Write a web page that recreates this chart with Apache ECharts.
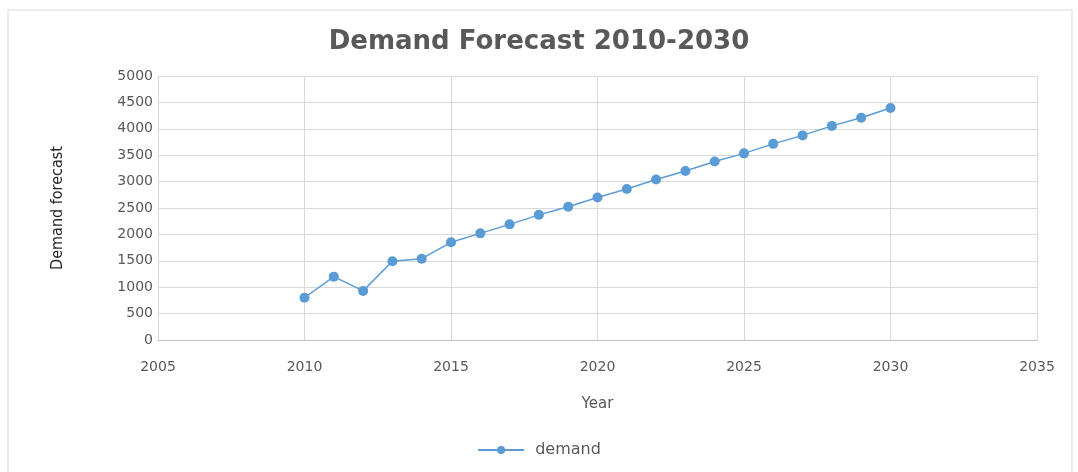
<!DOCTYPE html>
<html><head><meta charset="utf-8">
<script src="https://cdn.jsdelivr.net/npm/echarts@6/dist/echarts.min.js"></script>
<style>html,body{margin:0;padding:0;background:#fff}#c{width:1078px;height:472px}</style>
</head><body><div id="c"></div>
<script>
const titleText = "Demand Forecast 2010-2030";
const seriesName = "demand";
const years = [2010,2011,2012,2013,2014,2015,2016,2017,2018,2019,2020,2021,2022,2023,2024,2025,2026,2027,2028,2029,2030];
const demand = [800,1200,930,1490,1540,1850,2020,2190,2370,2525,2700,2860,3040,3200,3380,3535,3715,3875,4055,4210,4395];
const xName = "Year";
const yName = "Demand forecast";

const chart = echarts.init(document.getElementById('c'));
const txt = '#595959';
chart.setOption({
  animation:false,
  backgroundColor:'#fff',
  graphic:[{type:'rect',shape:{x:8,y:10,width:1064,height:470},style:{fill:'none',stroke:'#d9d9d9',lineWidth:1}}],
  title:{text:titleText,left:'center',top:24,textStyle:{fontFamily:'DejaVu Sans',fontWeight:'bold',fontSize:26,color:txt}},
  legend:{bottom:9,left:'center',itemWidth:46,itemHeight:10,itemGap:10,textStyle:{fontFamily:'DejaVu Sans',fontSize:16,color:txt,padding:[0,0,0,6]},data:[seriesName]},
  grid:{left:158,right:41,top:76,bottom:132},
  xAxis:{type:'value',min:2005,max:2035,interval:5,name:xName,nameLocation:'middle',nameGap:57,
    nameTextStyle:{fontFamily:'DejaVu Sans',fontSize:15,color:txt},
    axisLine:{show:true,lineStyle:{color:'#bfbfbf'}},axisTick:{show:false},
    axisLabel:{fontFamily:'DejaVu Sans',fontSize:14,color:txt,margin:20,formatter:v=>String(v)},
    splitLine:{show:true,lineStyle:{color:'#d9d9d9'}}},
  yAxis:{type:'value',min:0,max:5000,interval:500,name:yName,nameLocation:'middle',nameGap:92,
    nameTextStyle:{fontFamily:'DejaVu Sans Condensed',fontSize:16,color:'#262626'},
    axisLine:{show:false},axisTick:{show:false},
    axisLabel:{fontFamily:'DejaVu Sans',fontSize:14,color:txt,margin:5,formatter:v=>String(v)},
    splitLine:{show:true,lineStyle:{color:'#d9d9d9'}}},
  series:[{name:seriesName,type:'line',data:years.map((y,i)=>[y,demand[i]]),
    symbol:'circle',symbolSize:10,itemStyle:{color:'#5b9bd5'},lineStyle:{color:'#5b9bd5',width:1.5}}]
});
</script></body></html>
